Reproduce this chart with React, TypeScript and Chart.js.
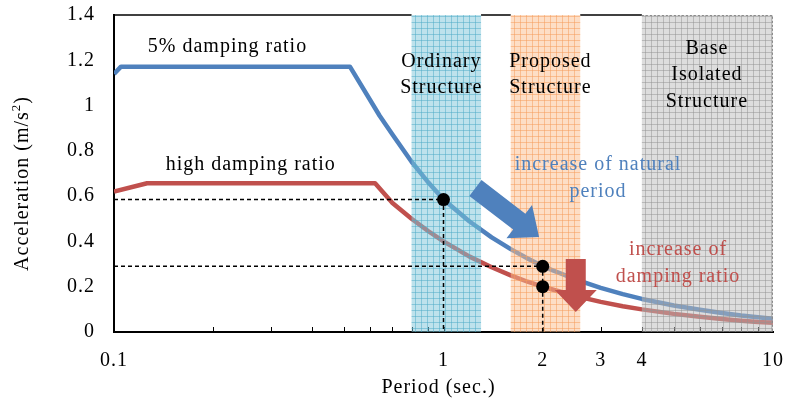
import { useEffect, useRef } from 'react';
import { Chart, registerables } from 'chart.js';

Chart.register(...registerables);

// Response spectrum, 5% damping ratio
const PERIOD_5PCT = [0.1, 0.105, 0.52, 0.64, 0.7, 0.8, 0.9, 1.0, 1.2, 1.4, 1.6, 1.8, 2.0, 2.5, 3.0, 3.5, 4.0, 5.0, 6.0, 7.0, 8.0, 9.0, 10.0];
const ACC_5PCT = [1.14, 1.172, 1.172, 0.955, 0.872, 0.752, 0.66, 0.585, 0.488, 0.418, 0.366, 0.325, 0.29, 0.234, 0.195, 0.167, 0.146, 0.117, 0.098, 0.084, 0.073, 0.065, 0.059];

// Response spectrum, high damping ratio
const PERIOD_HIGH = [0.1, 0.126, 0.62, 0.7, 0.8, 0.9, 1.0, 1.2, 1.4, 1.6, 1.8, 2.0, 2.5, 3.0, 3.5, 4.0, 5.0, 6.0, 7.0, 8.0, 9.0, 10.0];
const ACC_HIGH = [0.62, 0.657, 0.657, 0.57, 0.5, 0.445, 0.4, 0.333, 0.286, 0.25, 0.222, 0.2, 0.16, 0.133, 0.114, 0.1, 0.08, 0.067, 0.057, 0.05, 0.044, 0.041];

// Marked response points
const MARK_PERIOD = [1, 2, 2];
const MARK_ACC = [0.585, 0.29, 0.2];

// Axes
const Y_TICKS = [0, 0.2, 0.4, 0.6, 0.8, 1, 1.2, 1.4];
const X_TICKS = [0.1, 1, 2, 3, 4, 10];
const X_MINOR = [0.2, 0.3, 0.4, 0.5, 0.6, 0.7, 0.8, 0.9, 1, 2, 3, 4, 5, 6, 7, 8, 9];

// Period bands by structure type
const BAND_FROM = [0.8, 1.6, 4];
const BAND_TO = [1.3, 2.6, 10];
const BAND_TEXT = [['Ordinary', 'Structure'], ['Proposed', 'Structure'], ['Base', 'Isolated', 'Structure']];
const BAND_TEXT_X = [0.985, 2.11, 6.3];
const BAND_TEXT_Y = [1.136, 1.136, 1.136];
const BAND_BG = ['rgb(125,197,217)', 'rgb(251,189,141)', 'rgb(187,187,187)'];
const BAND_LINE = ['rgb(78,172,200)', 'rgb(245,155,89)', 'rgb(148,148,148)'];
const BAND_EDGE = [null, null, '#8a8a8a'];

// Annotation arrows [period, acceleration]
const ARROW_PERIOD_FROM = [1.25, 0.636];
const ARROW_PERIOD_TO = [1.95, 0.42];
const ARROW_DAMPING_FROM = [2.52, 0.322];
const ARROW_DAMPING_TO = [2.52, 0.088];

const BLUE = '#4f81bd';
const RED = '#c0504d';
const FONT = '"Liberation Serif", "Times New Roman", serif';

type Note = { lines: string[]; x: number; y: number; color: string };
const NOTES: Note[] = [
  { lines: ['5% damping ratio'], x: 0.221, y: 1.259, color: '#000' },
  { lines: ['high damping ratio'], x: 0.26, y: 0.738, color: '#000' },
  { lines: ['increase of natural', 'period'], x: 2.944, y: 0.679, color: BLUE },
  { lines: ['increase of', 'damping ratio'], x: 5.15, y: 0.303, color: RED },
];

function drawArrow(ctx: CanvasRenderingContext2D, x0: number, y0: number, x1: number, y1: number,
  shaftW: number, headW: number, headL: number, color: string) {
  const dx = x1 - x0, dy = y1 - y0;
  const len = Math.hypot(dx, dy);
  const ux = dx / len, uy = dy / len;
  const nx = -uy, ny = ux;
  const bx = x1 - ux * headL, by = y1 - uy * headL;
  ctx.beginPath();
  ctx.moveTo(x0 + nx * shaftW / 2, y0 + ny * shaftW / 2);
  ctx.lineTo(bx + nx * shaftW / 2, by + ny * shaftW / 2);
  ctx.lineTo(bx + nx * headW / 2, by + ny * headW / 2);
  ctx.lineTo(x1, y1);
  ctx.lineTo(bx - nx * headW / 2, by - ny * headW / 2);
  ctx.lineTo(bx - nx * shaftW / 2, by - ny * shaftW / 2);
  ctx.lineTo(x0 - nx * shaftW / 2, y0 - ny * shaftW / 2);
  ctx.closePath();
  ctx.fillStyle = color;
  ctx.fill();
}

const framePlugin = {
  id: 'frame',
  beforeDraw(chart: any) {
    (chart.ctx as any).letterSpacing = '1px';
  },
  beforeDatasetsDraw(chart: any) {
    const { ctx, chartArea: ca, scales } = chart;
    ctx.save();
    ctx.strokeStyle = '#000';
    ctx.lineWidth = 1.5;
    ctx.beginPath();
    ctx.moveTo(ca.left, ca.top);
    ctx.lineTo(ca.right, ca.top);
    ctx.stroke();
    // inward minor tick marks on the period axis
    ctx.lineWidth = 1;
    ctx.beginPath();
    X_MINOR.forEach((v) => {
      const px = Math.round(scales.x.getPixelForValue(v)) + 0.5;
      ctx.moveTo(px, ca.bottom);
      ctx.lineTo(px, ca.bottom - 5);
    });
    ctx.stroke();
    ctx.restore();
  },
  afterDatasetDraw(chart: any, args: any) {
    if (args.index !== 1) return;
    const { ctx, chartArea: ca, scales } = chart;
    BAND_FROM.forEach((from, i) => {
      const x0 = scales.x.getPixelForValue(from);
      const x1 = scales.x.getPixelForValue(BAND_TO[i]);
      ctx.save();
      ctx.fillStyle = '#fff';
      ctx.fillRect(x0, ca.top - 2, x1 - x0, 3);
      ctx.globalAlpha = 0.5;
      ctx.fillStyle = BAND_BG[i];
      ctx.fillRect(x0, ca.top, x1 - x0, ca.bottom - ca.top);
      ctx.strokeStyle = BAND_LINE[i];
      ctx.lineWidth = 1;
      ctx.beginPath();
      for (let px = Math.round(x0) + 3.5; px < x1; px += 6) {
        ctx.moveTo(px, ca.top);
        ctx.lineTo(px, ca.bottom);
      }
      for (let py = Math.round(ca.bottom) - 3.5; py > ca.top; py -= 6) {
        ctx.moveTo(x0, py);
        ctx.lineTo(x1, py);
      }
      ctx.stroke();
      ctx.globalAlpha = 1;
      const edge = BAND_EDGE[i];
      if (edge) {
        ctx.strokeStyle = edge;
        ctx.setLineDash([2, 2]);
        ctx.beginPath();
        ctx.moveTo(x0, ca.top + 0.5);
        ctx.lineTo(x1 - 0.5, ca.top + 0.5);
        ctx.lineTo(x1 - 0.5, ca.bottom);
        ctx.stroke();
      }
      ctx.restore();
    });
  },
  afterDraw(chart: any) {
    const { ctx, chartArea: ca, scales } = chart;
    const sx = scales.x, sy = scales.y;
    ctx.save();
    (ctx as any).letterSpacing = '1px';
    ctx.font = `20px ${FONT}`;
    ctx.textAlign = 'center';
    ctx.textBaseline = 'middle';
    const LINE_H = 26.5;

    const drawBlock = (lines: string[], x: number, y: number, color: string) => {
      const cx = sx.getPixelForValue(x);
      const cy = sy.getPixelForValue(y) - ((lines.length - 1) * LINE_H) / 2;
      ctx.fillStyle = color;
      lines.forEach((t, k) => ctx.fillText(t, cx, cy + k * LINE_H));
    };

    drawArrow(ctx,
      sx.getPixelForValue(ARROW_PERIOD_FROM[0]), sy.getPixelForValue(ARROW_PERIOD_FROM[1]),
      sx.getPixelForValue(ARROW_PERIOD_TO[0]), sy.getPixelForValue(ARROW_PERIOD_TO[1]),
      20, 42, 25, BLUE);
    drawArrow(ctx,
      sx.getPixelForValue(ARROW_DAMPING_FROM[0]), sy.getPixelForValue(ARROW_DAMPING_FROM[1]),
      sx.getPixelForValue(ARROW_DAMPING_TO[0]), sy.getPixelForValue(ARROW_DAMPING_TO[1]),
      20, 42, 22, RED);

    BAND_TEXT.forEach((lines, i) => drawBlock(lines, BAND_TEXT_X[i], BAND_TEXT_Y[i], '#000'));
    NOTES.forEach((n) => drawBlock(n.lines, n.x, n.y, n.color));

    // axis titles
    ctx.fillStyle = '#000';
    ctx.fillText('Period (sec.)', (ca.left + ca.right) / 2 - 5, ca.bottom + 56);

    ctx.save();
    ctx.translate(ca.left - 91, (ca.top + ca.bottom) / 2 + 10);
    ctx.rotate(-Math.PI / 2);
    ctx.textAlign = 'left';
    const main = 'Acceleration (m/s';
    ctx.font = `20px ${FONT}`;
    const wMain = ctx.measureText(main).width;
    ctx.font = `13px ${FONT}`;
    const wSup = ctx.measureText('2').width;
    ctx.font = `20px ${FONT}`;
    const wEnd = ctx.measureText(')').width;
    let px = -(wMain + wSup + wEnd) / 2;
    ctx.fillText(main, px, 0);
    px += wMain;
    ctx.font = `13px ${FONT}`;
    ctx.fillText('2', px, -6);
    px += wSup;
    ctx.font = `20px ${FONT}`;
    ctx.fillText(')', px, 0);
    ctx.restore();

    ctx.restore();
    (ctx as any).letterSpacing = '0px';
  },
};

export default function App() {
  const canvasRef = useRef<HTMLCanvasElement | null>(null);

  useEffect(() => {
    const canvas = canvasRef.current;
    if (!canvas) return;
    const toXY = (xs: number[], ys: number[]) => xs.map((x, i) => ({ x, y: ys[i] }));
    const guide = (i: number) => [
      { x: 0.1, y: MARK_ACC[i] },
      { x: MARK_PERIOD[i], y: MARK_ACC[i] },
      { x: MARK_PERIOD[i], y: 0 },
    ];

    const chart = new Chart(canvas, {
      type: 'line',
      data: {
        datasets: [
          {
            data: toXY(PERIOD_5PCT, ACC_5PCT),
            borderColor: BLUE, borderWidth: 4.5, pointRadius: 0, tension: 0,
            borderJoinStyle: 'round', order: 4,
          },
          {
            data: toXY(PERIOD_HIGH, ACC_HIGH),
            borderColor: RED, borderWidth: 4.5, pointRadius: 0, tension: 0,
            borderJoinStyle: 'round', order: 3,
          },
          {
            data: guide(0),
            borderColor: '#000', borderWidth: 1.5, borderDash: [4, 3], pointRadius: 0, order: 2,
          },
          {
            data: guide(1),
            borderColor: '#000', borderWidth: 1.5, borderDash: [4, 3], pointRadius: 0, order: 2,
          },
          {
            data: toXY(MARK_PERIOD, MARK_ACC),
            showLine: false, pointRadius: 6.5, pointBackgroundColor: '#000',
            pointBorderWidth: 0, order: 0,
          },
        ] as any,
      },
      options: {
        animation: false,
        responsive: true,
        maintainAspectRatio: false,
        layout: { padding: { top: 15, right: 14, left: 0, bottom: 0 } },
        plugins: { legend: { display: false }, tooltip: { enabled: false } },
        scales: {
          x: {
            type: 'logarithmic',
            min: 0.1,
            max: 10,
            grid: { display: false, drawTicks: false },
            border: { display: true, color: '#000', width: 2 },
            ticks: {
              autoSkip: false, maxRotation: 0, minRotation: 0, padding: 17, color: '#000',
              font: { family: FONT, size: 20 },
              callback: (v: any) => String(v),
            },
            afterBuildTicks: (s: any) => { s.ticks = X_TICKS.map((value) => ({ value })); },
            afterFit: (s: any) => {
              s.height = 68;
              s.paddingLeft = 0; s.paddingRight = 0; s.paddingTop = 0; s.paddingBottom = 0;
            },
          },
          y: {
            min: 0,
            max: 1.4,
            grid: { display: false, drawTicks: false },
            border: { display: true, color: '#000', width: 2 },
            ticks: {
              padding: 19, color: '#000',
              font: { family: FONT, size: 20 },
              callback: (v: any) => String(Math.round(Number(v) * 10) / 10),
            },
            afterBuildTicks: (s: any) => { s.ticks = Y_TICKS.map((value) => ({ value })); },
            afterFit: (s: any) => {
              s.width = 114;
              s.paddingLeft = 0; s.paddingRight = 0; s.paddingTop = 0; s.paddingBottom = 0;
            },
          },
        },
      } as any,
      plugins: [framePlugin],
    });
    return () => chart.destroy();
  }, []);

  return (
    <div style={{ position: 'fixed', left: 0, top: 0, width: 787, height: 400, background: '#fff' }}>
      <canvas ref={canvasRef} />
    </div>
  );
}
